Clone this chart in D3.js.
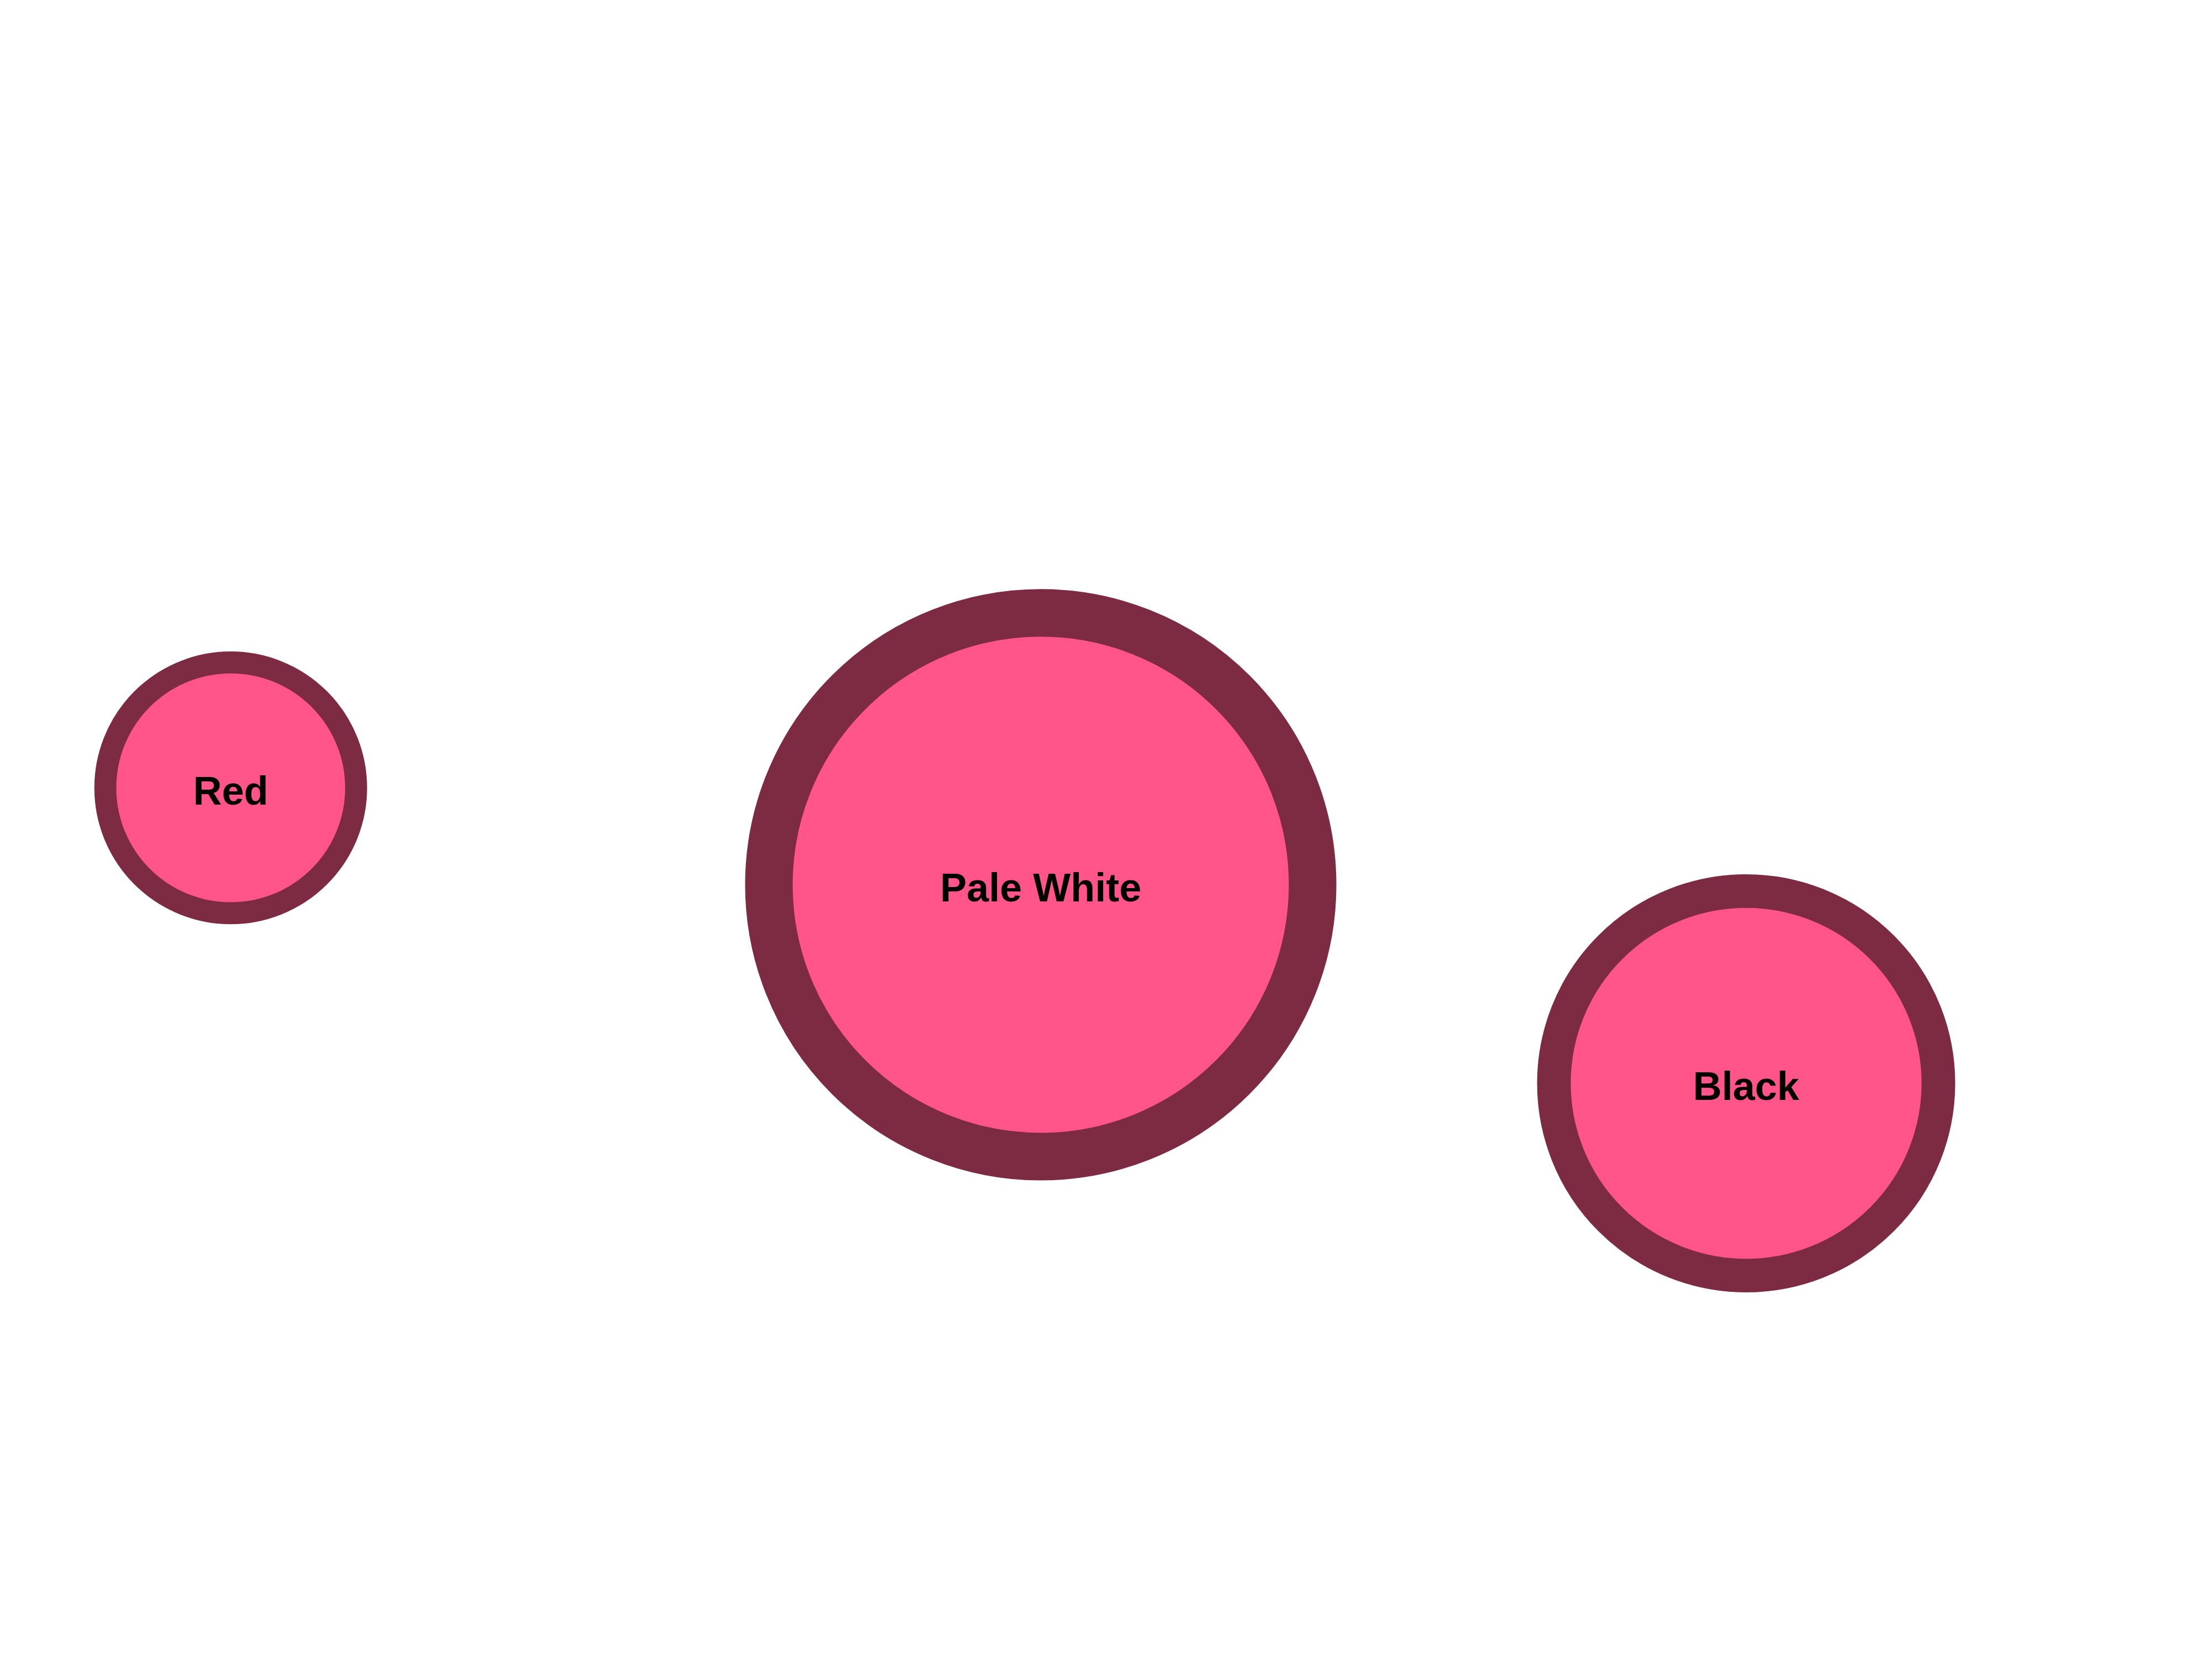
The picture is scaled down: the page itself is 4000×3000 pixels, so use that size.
<!DOCTYPE html>
<html>
<head>
<meta charset="utf-8">
<script src="https://cdn.jsdelivr.net/npm/d3@7"></script>
<style>
  html, body { margin: 0; padding: 0; background: #ffffff; }
  svg { display: block; }
</style>
</head>
<body>
<div id="chart"></div>
<script>
// ---- data ----
const categories = ["Red", "Pale White", "Black"];
const values = [10, 47, 23.5];          // bubble size values
const xValues = [10.43, 47.05, 78.94];   // horizontal position values
const yValues = [52.51, 46.67, 34.70];   // vertical position values

// ---- layout ----
const width = 4000, height = 3000;
const fillColor = "#ff5588";
const strokeColor = d3.color(fillColor).darker(2).formatHex();

const data = categories.map((c, i) => ({ name: c, value: values[i], x: xValues[i], y: yValues[i] }));

const x = d3.scaleLinear().domain([0, 100]).range([0, width]);
const y = d3.scaleLinear().domain([0, 100]).range([height, 0]);
const r = d3.scaleSqrt().domain([0, 47]).range([0, 491.6]);

const svg = d3.select("#chart").append("svg")
  .attr("width", width)
  .attr("height", height);

const g = svg.selectAll("g.bubble")
  .data(data)
  .join("g")
  .attr("class", "bubble")
  .attr("transform", d => `translate(${x(d.x)},${y(d.y)})`);

g.append("circle")
  .attr("r", d => r(d.value))
  .attr("fill", fillColor)
  .attr("stroke", strokeColor)
  .attr("stroke-width", d => r(d.value) * 0.175);

g.append("text")
  .attr("text-anchor", "middle")
  .attr("dy", "0.42em")
  .attr("font-family", "'Liberation Sans', Arial, sans-serif")
  .attr("font-weight", "bold")
  .attr("font-size", 72)
  .attr("fill", "#000")
  .text(d => d.name);
</script>
</body>
</html>
